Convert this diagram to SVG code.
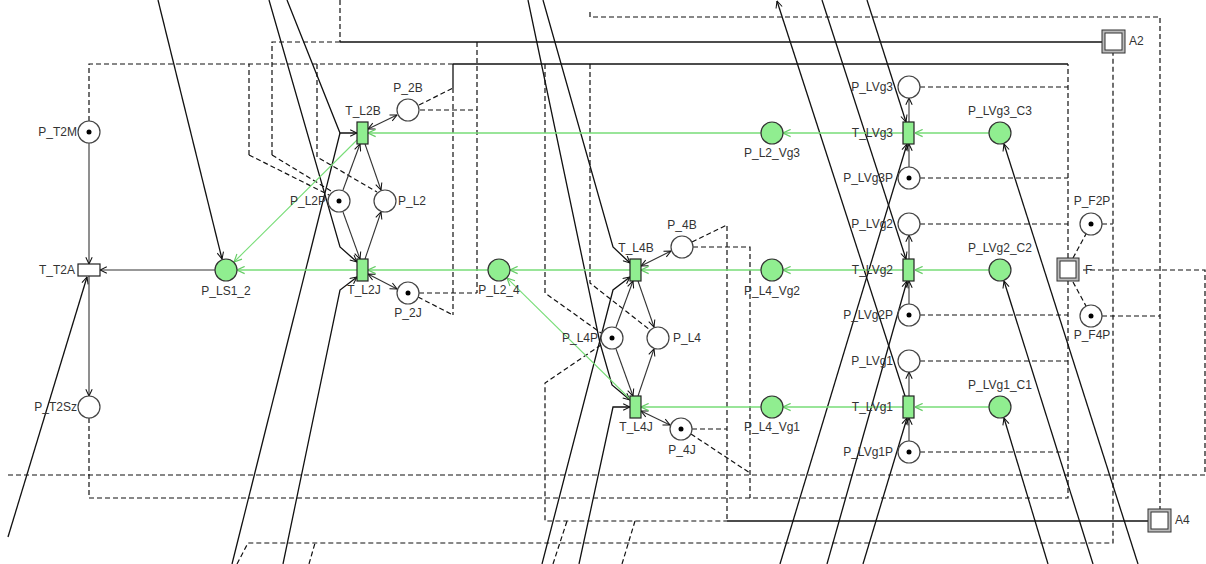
<svg xmlns="http://www.w3.org/2000/svg" width="1206" height="564" viewBox="0 0 1206 564">
<style>
.lbl{font-family:"Liberation Sans",Arial,sans-serif;font-size:12px;fill:#333}
.pl{fill:#fff;stroke:#444;stroke-width:1.2}
.pg{fill:#90ee90;stroke:#333;stroke-width:1.2}
.tg{fill:#90ee90;stroke:#222;stroke-width:1.2}
.tw{fill:#fff;stroke:#222;stroke-width:1.2}
.tok{fill:#000}
.a{fill:none;stroke:#111;stroke-width:1.3}
.s{fill:none;stroke:#333;stroke-width:1.1}
.d{fill:none;stroke:#111;stroke-width:1.2;stroke-dasharray:5 3}
.g{fill:none;stroke:#77dd77;stroke-width:1.5}
.ga{fill:none;stroke:#77dd77;stroke-width:1.1}
.mac{fill:#bbb;stroke:#333;stroke-width:1}
.mac2{fill:#fff;stroke:#333;stroke-width:1}
</style>
<defs>
<marker id="ah" viewBox="0 0 10 10" refX="9.5" refY="5" markerWidth="8" markerHeight="8" markerUnits="userSpaceOnUse" orient="auto-start-reverse">
<path d="M1,1 L9.5,5 L1,9" fill="none" stroke="#111" stroke-width="1.3"/>
</marker>
<marker id="gh" viewBox="0 0 10 10" refX="9.5" refY="5" markerWidth="9" markerHeight="9" markerUnits="userSpaceOnUse" orient="auto">
<path d="M1,1 L9.5,5 L1,9" fill="none" stroke="#66cc66" stroke-width="1.3"/>
</marker>
</defs>
<rect width="1206" height="564" fill="#fff"/>

<g id="connectors">
<!-- dashed routes -->
<path class="d" d="M89,121 V64 H455"/>
<path class="d" d="M249,155 V64"/>
<path class="d" d="M249,155 L329,195"/>
<path class="d" d="M272,155 V42 H340"/>
<path class="d" d="M272,155 L331,191"/>
<path class="d" d="M340,0 V42"/>
<path class="d" d="M317,64 V157 L377,192"/>
<path class="d" d="M420,110 H477"/>
<path class="d" d="M419,105 L453,88"/>
<path class="d" d="M477,42 V293"/>
<path class="d" d="M453,88 V315"/>
<path class="d" d="M419,293 H477"/>
<path class="d" d="M418,297 L453,315"/>
<path class="d" d="M545,64 V293 L601,333"/>
<path class="d" d="M590,64 V283 L650,330"/>
<path class="d" d="M601,345 L545,383 V521 H727"/>
<path class="d" d="M693,247 H750 V498"/>
<path class="d" d="M692,242 L727,225 V521"/>
<path class="d" d="M692,429 H727"/>
<path class="d" d="M691,434 L750,473"/>
<path class="d" d="M89,418 V498 H1068 V281"/>
<path class="d" d="M1068,258 V64"/>
<path class="d" d="M237,564 L248,543 H1113 V53"/>
<path class="d" d="M309,564 L315,543"/>
<path class="d" d="M553,564 L567,521"/>
<path class="d" d="M622,564 L635,521"/>
<path class="d" d="M8,475 H1205 V270 H1083"/>
<path class="d" d="M590,12 V17 H1160 V509"/>
<path class="d" d="M920,87 H1068 M920,178 H1068 M920,224 H1068 M920,315 H1068 M920,361 H1068 M920,452 H1068"/>
<path class="d" d="M1102,316 H1160 M1102,224 H1113"/>
<path class="d" d="M1073,258 L1086,234 M1073,282 L1086,306"/>
<!-- solid routes to the macro transitions -->
<path class="a" d="M340,42 H1102"/>
<path class="a" d="M453,64 H1068"/>
<path class="a" d="M453,64 V88"/>
<path class="a" d="M727,521 H1148"/>

<!-- long arcs from outside the sheet -->
<path class="a" d="M158,0 L222,259" marker-end="url(#ah)"/>
<path class="a" d="M8,537 L87,277" marker-end="url(#ah)"/>
<path class="a" d="M287,0 L340,133 L357,133" marker-end="url(#ah)"/>
<path class="a" d="M232,564 L340,133"/>
<path class="a" d="M269,0 L340,247 L357,262" marker-end="url(#ah)"/>
<path class="a" d="M283,564 L340,290 L357,277" marker-end="url(#ah)"/>
<path class="a" d="M543,0 L613,247 L630,263" marker-end="url(#ah)"/>
<path class="a" d="M528,0 L600,343 L612,385 L630,400" marker-end="url(#ah)"/>
<path class="a" d="M542,564 L613,290 L630,277" marker-end="url(#ah)"/>
<path class="a" d="M579,564 L613,407 L630,407" marker-end="url(#ah)"/>
<path class="a" d="M867,0 L906,122" marker-end="url(#ah)"/>
<path class="a" d="M822,0 L906,259" marker-end="url(#ah)"/>
<path class="a" d="M905,396 L777,1" marker-end="url(#ah)"/>
<path class="a" d="M780,564 L907,144" marker-end="url(#ah)"/>
<path class="a" d="M827,564 L907,281" marker-end="url(#ah)"/>
<path class="a" d="M863,564 L907,418" marker-end="url(#ah)"/>
<path class="a" d="M1048,564 L1004,418" marker-end="url(#ah)"/>
<path class="a" d="M1093,564 L1004,281" marker-end="url(#ah)"/>
<path class="a" d="M1138,564 L1004,144" marker-end="url(#ah)"/>

<!-- local arcs -->
<path class="s" d="M89,143 V264" marker-end="url(#ah)"/>
<path class="s" d="M89,276 V396" marker-end="url(#ah)"/>
<path class="s" d="M215,270 H100" marker-end="url(#ah)"/>
<path class="s" d="M343,190 L360,144" marker-end="url(#ah)"/>
<path class="s" d="M343,212 L360,259" marker-end="url(#ah)"/>
<path class="s" d="M365,144 L381,190" marker-end="url(#ah)"/>
<path class="s" d="M365,259 L381,212" marker-end="url(#ah)"/>
<path class="s" d="M368,129 L397,115" marker-start="url(#ah)" marker-end="url(#ah)"/>
<path class="s" d="M368,274 L397,289" marker-start="url(#ah)" marker-end="url(#ah)"/>
<path class="s" d="M616,327 L633,281" marker-end="url(#ah)"/>
<path class="s" d="M616,349 L633,396" marker-end="url(#ah)"/>
<path class="s" d="M638,281 L654,327" marker-end="url(#ah)"/>
<path class="s" d="M638,396 L654,349" marker-end="url(#ah)"/>
<path class="s" d="M641,266 L671,251" marker-start="url(#ah)" marker-end="url(#ah)"/>
<path class="s" d="M641,411 L670,425" marker-start="url(#ah)" marker-end="url(#ah)"/>
<path class="s" d="M909,167 V144" marker-end="url(#ah)"/>
<path class="s" d="M909,122 V98" marker-end="url(#ah)"/>
<path class="s" d="M909,304 V281" marker-end="url(#ah)"/>
<path class="s" d="M909,259 V235" marker-end="url(#ah)"/>
<path class="s" d="M909,441 V418" marker-end="url(#ah)"/>
<path class="s" d="M909,396 V372" marker-end="url(#ah)"/>

<!-- flow arcs -->
<path class="g" d="M761,133 H368" marker-end="url(#gh)"/>
<path class="g" d="M903,133 H783" marker-end="url(#gh)"/>
<path class="g" d="M989,133 H915" marker-end="url(#gh)"/>
<path class="ga" d="M357,140 L234,262" marker-end="url(#gh)"/>
<path class="g" d="M357,270 H237" marker-end="url(#gh)"/>
<path class="g" d="M488,270 H368" marker-end="url(#gh)"/>
<path class="g" d="M630,270 H510" marker-end="url(#gh)"/>
<path class="ga" d="M631,400 L507,278" marker-end="url(#gh)"/>
<path class="g" d="M761,270 H641" marker-end="url(#gh)"/>
<path class="g" d="M903,270 H783" marker-end="url(#gh)"/>
<path class="g" d="M989,270 H915" marker-end="url(#gh)"/>
<path class="g" d="M761,407 H641" marker-end="url(#gh)"/>
<path class="g" d="M903,407 H783" marker-end="url(#gh)"/>
<path class="g" d="M989,407 H915" marker-end="url(#gh)"/>
</g>

<g id="P_T2M"><circle class="pl" cx="89" cy="132" r="11"/><circle class="tok" cx="89" cy="132" r="2.5"/><text class="lbl" x="77" y="136" text-anchor="end">P_T2M</text></g>
<g id="T_T2A"><rect class="tw" x="78" y="264" width="22" height="12"/><text class="lbl" x="75" y="274" text-anchor="end">T_T2A</text></g>
<g id="P_T2Sz"><circle class="pl" cx="89" cy="407" r="11"/><text class="lbl" x="77" y="411" text-anchor="end">P_T2Sz</text></g>
<g id="P_LS1_2"><circle class="pg" cx="226" cy="270" r="11"/><text class="lbl" x="226" y="295" text-anchor="middle">P_LS1_2</text></g>
<g id="T_L2B"><rect class="tg" x="357" y="122" width="11" height="22"/><text class="lbl" x="363" y="115" text-anchor="middle">T_L2B</text></g>
<g id="P_2B"><circle class="pl" cx="408" cy="110" r="11"/><text class="lbl" x="408" y="92" text-anchor="middle">P_2B</text></g>
<g id="P_L2P"><circle class="pl" cx="339" cy="201" r="11"/><circle class="tok" cx="339" cy="201" r="2.5"/><text class="lbl" x="326" y="205" text-anchor="end">P_L2P</text></g>
<g id="P_L2"><circle class="pl" cx="385" cy="201" r="11"/><text class="lbl" x="398" y="205">P_L2</text></g>
<g id="T_L2J"><rect class="tg" x="357" y="259" width="11" height="22"/><text class="lbl" x="364" y="294" text-anchor="middle">T_L2J</text></g>
<g id="P_2J"><circle class="pl" cx="408" cy="293" r="11"/><circle class="tok" cx="408" cy="293" r="2.5"/><text class="lbl" x="408" y="317" text-anchor="middle">P_2J</text></g>
<g id="P_L2_4"><circle class="pg" cx="499" cy="270" r="11"/><text class="lbl" x="499" y="294" text-anchor="middle">P_L2_4</text></g>
<g id="T_L4B"><rect class="tg" x="630" y="259" width="11" height="22"/><text class="lbl" x="636" y="252" text-anchor="middle">T_L4B</text></g>
<g id="P_4B"><circle class="pl" cx="682" cy="247" r="11"/><text class="lbl" x="682" y="229" text-anchor="middle">P_4B</text></g>
<g id="P_L4P"><circle class="pl" cx="612" cy="338" r="11"/><circle class="tok" cx="612" cy="338" r="2.5"/><text class="lbl" x="598" y="342" text-anchor="end">P_L4P</text></g>
<g id="P_L4"><circle class="pl" cx="658" cy="338" r="11"/><text class="lbl" x="673" y="342">P_L4</text></g>
<g id="T_L4J"><rect class="tg" x="630" y="396" width="11" height="22"/><text class="lbl" x="636" y="431" text-anchor="middle">T_L4J</text></g>
<g id="P_4J"><circle class="pl" cx="681" cy="429" r="11"/><circle class="tok" cx="681" cy="429" r="2.5"/><text class="lbl" x="682" y="454" text-anchor="middle">P_4J</text></g>
<g id="P_L2_Vg3"><circle class="pg" cx="772" cy="133" r="11"/><text class="lbl" x="772" y="157" text-anchor="middle">P_L2_Vg3</text></g>
<g id="P_L4_Vg2"><circle class="pg" cx="772" cy="270" r="11"/><text class="lbl" x="772" y="295" text-anchor="middle">P_L4_Vg2</text></g>
<g id="P_L4_Vg1"><circle class="pg" cx="772" cy="407" r="11"/><text class="lbl" x="772" y="431" text-anchor="middle">P_L4_Vg1</text></g>
<g id="P_LVg3"><circle class="pl" cx="909" cy="87" r="11"/><text class="lbl" x="893" y="91" text-anchor="end">P_LVg3</text></g>
<g id="T_LVg3"><rect class="tg" x="903" y="122" width="11" height="22"/><text class="lbl" x="893" y="137" text-anchor="end">T_LVg3</text></g>
<g id="P_LVg3P"><circle class="pl" cx="909" cy="178" r="11"/><circle class="tok" cx="909" cy="178" r="2.5"/><text class="lbl" x="893" y="182" text-anchor="end">P_LVg3P</text></g>
<g id="P_LVg2"><circle class="pl" cx="909" cy="224" r="11"/><text class="lbl" x="893" y="228" text-anchor="end">P_LVg2</text></g>
<g id="T_LVg2"><rect class="tg" x="903" y="259" width="11" height="22"/><text class="lbl" x="893" y="274" text-anchor="end">T_LVg2</text></g>
<g id="P_LVg2P"><circle class="pl" cx="909" cy="315" r="11"/><circle class="tok" cx="909" cy="315" r="2.5"/><text class="lbl" x="893" y="319" text-anchor="end">P_LVg2P</text></g>
<g id="P_LVg1"><circle class="pl" cx="909" cy="361" r="11"/><text class="lbl" x="893" y="365" text-anchor="end">P_LVg1</text></g>
<g id="T_LVg1"><rect class="tg" x="903" y="396" width="11" height="22"/><text class="lbl" x="893" y="411" text-anchor="end">T_LVg1</text></g>
<g id="P_LVg1P"><circle class="pl" cx="909" cy="452" r="11"/><circle class="tok" cx="909" cy="452" r="2.5"/><text class="lbl" x="893" y="456" text-anchor="end">P_LVg1P</text></g>
<g id="P_LVg3_C3"><circle class="pg" cx="1000" cy="133" r="11"/><text class="lbl" x="1000" y="115" text-anchor="middle">P_LVg3_C3</text></g>
<g id="P_LVg2_C2"><circle class="pg" cx="1000" cy="270" r="11"/><text class="lbl" x="1000" y="252" text-anchor="middle">P_LVg2_C2</text></g>
<g id="P_LVg1_C1"><circle class="pg" cx="1000" cy="407" r="11"/><text class="lbl" x="1000" y="389" text-anchor="middle">P_LVg1_C1</text></g>
<g id="P_F2P"><circle class="pl" cx="1091" cy="224" r="11"/><circle class="tok" cx="1091" cy="224" r="2.5"/><text class="lbl" x="1092" y="205" text-anchor="middle">P_F2P</text></g>
<g id="F"><rect class="mac" x="1057" y="258" width="22" height="23"/><rect class="mac2" x="1060" y="261" width="16" height="17"/><text class="lbl" x="1085" y="274">F</text></g>
<g id="P_F4P"><circle class="pl" cx="1091" cy="316" r="11"/><circle class="tok" cx="1091" cy="316" r="2.5"/><text class="lbl" x="1092" y="339" text-anchor="middle">P_F4P</text></g>
<g id="A2"><rect class="mac" x="1102" y="30" width="23" height="23"/><rect class="mac2" x="1105" y="33" width="17" height="17"/><text class="lbl" x="1129" y="45">A2</text></g>
<g id="A4"><rect class="mac" x="1148" y="509" width="23" height="23"/><rect class="mac2" x="1151" y="512" width="17" height="17"/><text class="lbl" x="1175" y="524">A4</text></g>
</svg>
